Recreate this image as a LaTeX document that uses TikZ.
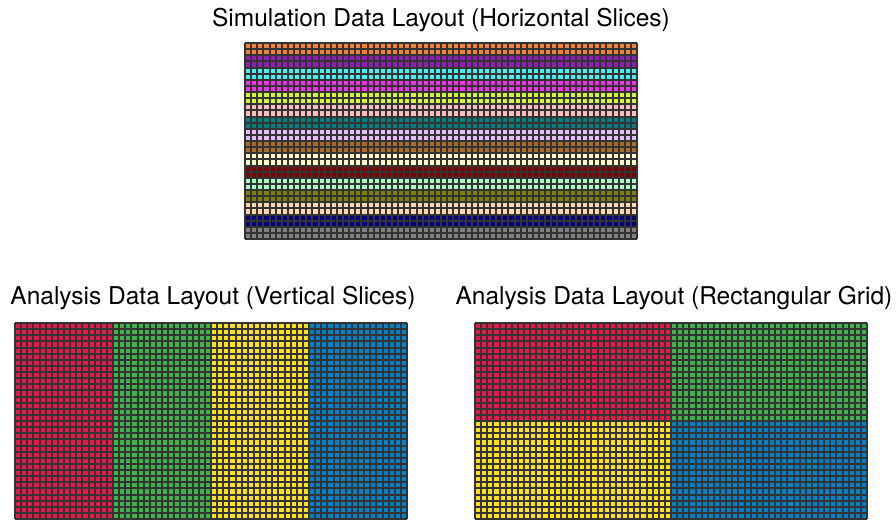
\documentclass[tikz,border=0pt]{standalone}
\usepackage{fontspec}
\setmainfont{TeX Gyre Heros}
\definecolor{dkred}{HTML}{E6194B}
\definecolor{dkgreen}{HTML}{3CB44B}
\definecolor{dkyellow}{HTML}{FFE119}
\definecolor{dkblue}{HTML}{0082C8}
\definecolor{dkorange}{HTML}{F58231}
\definecolor{dkpurple}{HTML}{911EB4}
\definecolor{dkcyan}{HTML}{46F0F0}
\definecolor{dkmagenta}{HTML}{F032E6}
\definecolor{dklime}{HTML}{D2F53C}
\definecolor{dkpink}{HTML}{FABEBE}
\definecolor{dkteal}{HTML}{008080}
\definecolor{dklavender}{HTML}{E6BEFF}
\definecolor{dkbrown}{HTML}{AA6E28}
\definecolor{dkbeige}{HTML}{FFFAC8}
\definecolor{dkmaroon}{HTML}{800000}
\definecolor{dkmint}{HTML}{AAFFC3}
\definecolor{dkolive}{HTML}{808000}
\definecolor{dkcoral}{HTML}{FFD8B1}
\definecolor{dknavy}{HTML}{000080}
\definecolor{dkgrey}{HTML}{808080}
\tikzset{every picture/.style={x=1pt,y=-1pt}}
\tikzset{cellline/.style={draw=black!80,line width=1.8pt}}
\tikzset{heading/.style={font=\fontsize{24.5}{29}\selectfont,anchor=base,inner sep=0pt}}
% 64 x 32 cells of 6.125 starting at #1,#2 (lines snapped to whole units)
\newcommand{\cellgrid}[2]{%
  \foreach \k [evaluate=\k as \p using {round(#1+\k*6.125)}] in {0,...,64}
    \draw [cellline] (\p,#2) -- ++(0,196);
  \foreach \k [evaluate=\k as \p using {round(#2+\k*6.125)}] in {0,...,32}
    \draw [cellline] (#1,\p) -- ++(392,0);
}

\begin{document}
\begin{tikzpicture}
\useasboundingbox (0,0) rectangle (896,519);
\node [heading] (simtitle) at (441,27) {Simulation Data Layout (Horizontal Slices)};
\node [heading] (verttitle) at (213,304) {Analysis Data Layout (Vertical Slices)};
\node [heading] (recttitle) at (674,304) {Analysis Data Layout (Rectangular Grid)};

% simulation: horizontal slices
\foreach \c [count=\i from 0] in {dkorange,dkpurple,dkcyan,dkmagenta,dklime,dkpink,dkteal,dklavender,dkbrown,dkbeige,dkmaroon,dkmint,dkolive,dkcoral,dknavy,dkgrey}
  \fill [\c] (245,43+\i*12.25) rectangle ++(392,12.25);
\cellgrid{245}{43}

% analysis: vertical slices
\foreach \c [count=\i from 0] in {dkred,dkgreen,dkyellow,dkblue}
  \fill [\c] (15+\i*98,323) rectangle ++(98,196);
\cellgrid{15}{323}

% analysis: rectangular grid
\fill [dkred] (475,323) rectangle ++(196,98);
\fill [dkgreen] (671,323) rectangle ++(196,98);
\fill [dkyellow] (475,421) rectangle ++(196,98);
\fill [dkblue] (671,421) rectangle ++(196,98);
\cellgrid{475}{323}
\end{tikzpicture}
\end{document}
